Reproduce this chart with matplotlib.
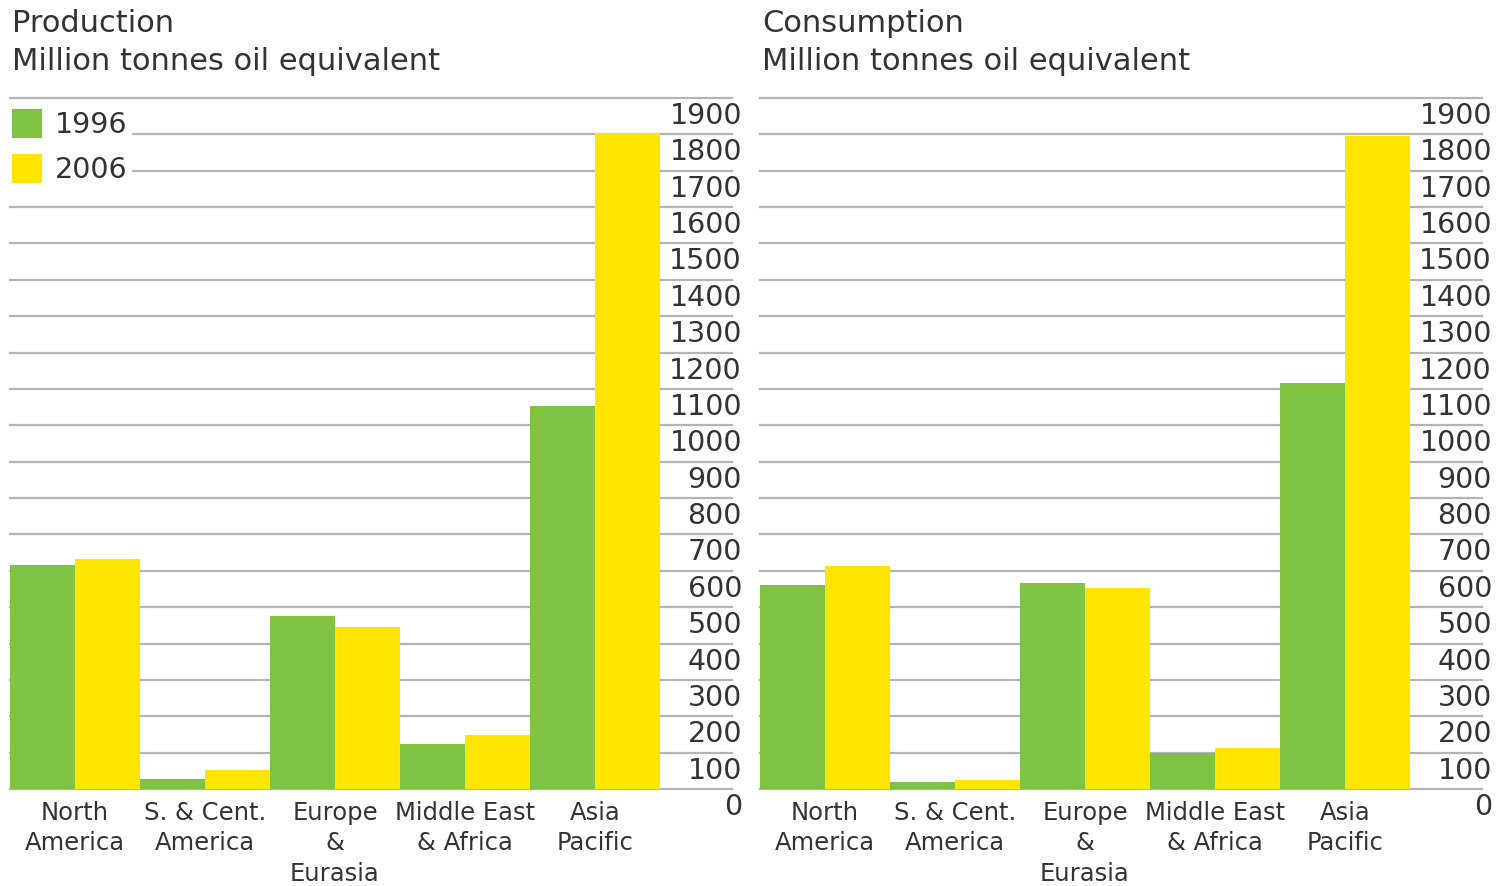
import matplotlib
matplotlib.use("Agg")
import matplotlib.pyplot as plt
import matplotlib.transforms as mtransforms
import numpy as np

categories = ["North\nAmerica", "S. & Cent.\nAmerica", "Europe\n&\nEurasia", "Middle East\n& Africa", "Asia\nPacific"]
years = ["1996", "2006"]
production_1996 = [616, 27, 476, 124, 1054]
production_2006 = [633, 52, 446, 149, 1803]
consumption_1996 = [561, 19, 567, 99, 1117]
consumption_2006 = [614, 25, 553, 113, 1795]
yticks = list(range(0, 2000, 100))
panel_titles = ["Production\nMillion tonnes oil equivalent", "Consumption\nMillion tonnes oil equivalent"]

GREEN = "#80C342"
YELLOW = "#FFE500"
GRID = "#B4B4B4"
TEXT = "#333333"

W, H = 1501, 886
fig = plt.figure(figsize=(W / 100, H / 100), dpi=100)

def px_ax(x0, x1, ybot, ytop):
    return fig.add_axes([x0 / W, (H - ybot) / H, (x1 - x0) / W, (ybot - ytop) / H])

axL = px_ax(10, 660, 789, 98)
axR = px_ax(760, 1410, 789, 98)

for ax, v96, v06, title, tx in [(axL, production_1996, production_2006, panel_titles[0], 12),
                                (axR, consumption_1996, consumption_2006, panel_titles[1], 762)]:
    x = np.arange(len(categories))
    ax.bar(x - 0.25, v96, width=0.5, color=GREEN, zorder=3, label=years[0])
    ax.bar(x + 0.25, v06, width=0.5, color=YELLOW, zorder=3, label=years[1])
    ax.set_xlim(-0.5, len(categories) - 0.5)
    ax.set_ylim(0, 1900)
    for s in ax.spines.values():
        s.set_visible(False)
    ax.set_xticks([])
    ax.set_yticks([])
    trans = ax.get_yaxis_transform()
    ttrans = mtransforms.offset_copy(trans, fig=fig, x=0, y=-4, units="dots")
    for t in yticks:
        ax.plot([0, 1.111], [t, t], transform=trans, color=GRID, lw=1.6,
                clip_on=False, zorder=1)
        ax.text(1.126, t, str(t), transform=ttrans, ha="right", va="top",
                fontsize=20.5, color=TEXT, clip_on=False)
    for i, c in enumerate(categories):
        ax.text(i, -0.017, c, transform=ax.get_xaxis_transform(), ha="center", va="top",
                fontsize=17.5, color=TEXT, linespacing=1.34)
    fig.text(tx / W, 1 - 23 / H, title.split("\n")[0], ha="left", va="center",
             fontsize=22, color=TEXT)
    fig.text(tx / W, 1 - 61 / H, title.split("\n")[1], ha="left", va="center",
             fontsize=22, color=TEXT)

leg = axL.legend(loc="upper left", bbox_to_anchor=(-0.004, 0.99), frameon=True,
                 fontsize=20.5, handlelength=1.05, handleheight=1.2, borderpad=0.15,
                 borderaxespad=0, labelspacing=0.5, handletextpad=0.45,
                 fancybox=False, edgecolor="white", facecolor="white", framealpha=1)
for t in leg.get_texts():
    t.set_color(TEXT)
leg.set_zorder(5)

fig.savefig("out.png", dpi=100, facecolor="white")
